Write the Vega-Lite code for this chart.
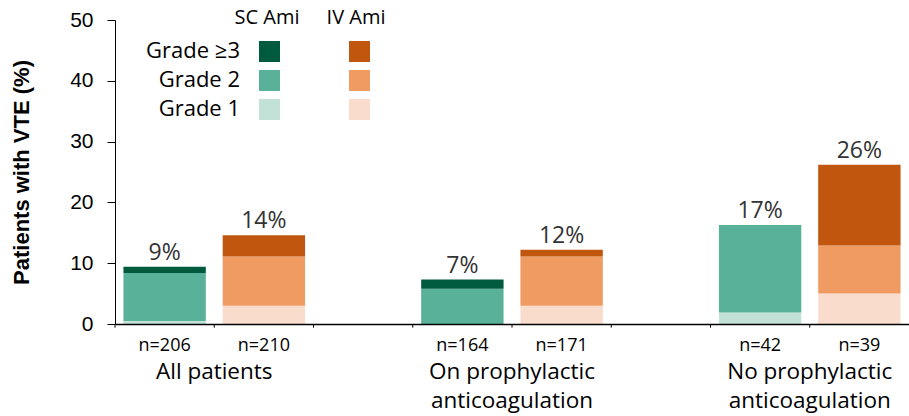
{
  "$schema": "https://vega.github.io/schema/vega-lite/v6.json",
  "width": 794,
  "height": 304,
  "autosize": {"type": "none"},
  "padding": {"left": 115, "top": 20, "right": 0, "bottom": 92},
  "config": {
    "view": {"stroke": null},
    "font": "Open Sans",
    "axis": {"grid": false}
  },
  "layer": [
    {
      "data": {"values": [
        {"slot": "n=206", "grade": "Grade 1", "value": 0.5},
        {"slot": "n=206", "grade": "Grade 2", "value": 7.9},
        {"slot": "n=206", "grade": "Grade ≥3", "value": 1.0},
        {"slot": "n=164", "grade": "Grade 1", "value": 0.0},
        {"slot": "n=164", "grade": "Grade 2", "value": 5.8},
        {"slot": "n=164", "grade": "Grade ≥3", "value": 1.5},
        {"slot": "n=42", "grade": "Grade 1", "value": 1.9},
        {"slot": "n=42", "grade": "Grade 2", "value": 14.4},
        {"slot": "n=42", "grade": "Grade ≥3", "value": 0.0}
      ]},
      "mark": {"type": "bar", "width": {"band": 0.83}},
      "encoding": {
        "x": {
          "field": "slot", "type": "nominal",
          "scale": {"domain": ["n=206", "n=210", "gap1", "n=164", "n=171", "gap2", "n=42", "n=39"], "paddingInner": 0, "paddingOuter": 0},
          "axis": {
            "title": null, "labelExpr": "indexof(datum.value,'gap')==0 ? '' : datum.value",
            "domain": true, "domainColor": "#000", "domainWidth": 1.5, "ticks": false,
            "labelFontSize": 18, "labelColor": "#000", "labelPadding": 12, "labelAngle": 0, "zindex": 1
          }
        },
        "y": {
          "field": "value", "type": "quantitative", "stack": "zero",
          "scale": {"domain": [0, 50], "nice": false},
          "axis": {
            "title": "Patients with VTE (%)", "titleFont": "Liberation Sans", "titleFontSize": 22, "titleFontWeight": "bold", "titleColor": "#000", "titlePadding": 36,
            "values": [0, 10, 20, 30, 40, 50], "tickSize": 8, "tickColor": "#000", "domainColor": "#000",
            "labelFont": "Liberation Sans", "labelFontSize": 21, "labelColor": "#000", "labelPadding": 14
          }
        },
        "fill": {
          "field": "grade", "type": "nominal",
          "scale": {"domain": ["Grade ≥3", "Grade 2", "Grade 1"], "range": ["#005a3e", "#59b19a", "#c2e2d8"]},
          "legend": {
            "title": "SC Ami", "orient": "none", "legendX": 120, "legendY": -12, "padding": 0,
            "symbolType": "square", "symbolSize": 440, "symbolStrokeWidth": 0, "symbolOffset": 6,
            "labelExpr": "''", "labelOffset": 0, "rowPadding": 8,
            "titleFont": "Open Sans", "titleFontSize": 20, "titleFontWeight": "normal", "titleColor": "#000", "titleAnchor": "middle", "titlePadding": 13
          }
        },
        "order": {"field": "grade", "sort": "ascending"}
      }
    },
    {
      "data": {"values": [
        {"slot": "n=210", "grade": "Grade 1", "value": 3.0},
        {"slot": "n=210", "grade": "Grade 2", "value": 8.1},
        {"slot": "n=210", "grade": "Grade ≥3", "value": 3.5},
        {"slot": "n=171", "grade": "Grade 1", "value": 3.0},
        {"slot": "n=171", "grade": "Grade 2", "value": 8.1},
        {"slot": "n=171", "grade": "Grade ≥3", "value": 1.1},
        {"slot": "n=39", "grade": "Grade 1", "value": 5.0},
        {"slot": "n=39", "grade": "Grade 2", "value": 7.9},
        {"slot": "n=39", "grade": "Grade ≥3", "value": 13.3}
      ]},
      "mark": {"type": "bar", "width": {"band": 0.83}},
      "encoding": {
        "x": {"field": "slot", "type": "nominal", "scale": {"domain": ["n=206", "n=210", "gap1", "n=164", "n=171", "gap2", "n=42", "n=39"]}},
        "y": {"field": "value", "type": "quantitative", "stack": "zero", "scale": {"domain": [0, 50], "nice": false}},
        "fill": {
          "field": "grade", "type": "nominal",
          "scale": {"domain": ["Grade ≥3", "Grade 2", "Grade 1"], "range": ["#c1560f", "#f09b62", "#fadccc"]},
          "legend": {
            "title": "IV Ami", "orient": "none", "legendX": 212, "legendY": -12, "padding": 0,
            "symbolType": "square", "symbolSize": 440, "symbolStrokeWidth": 0, "symbolOffset": 7,
            "labelExpr": "''", "labelOffset": 0, "rowPadding": 8,
            "titleFont": "Open Sans", "titleFontSize": 20, "titleFontWeight": "normal", "titleColor": "#000", "titleAnchor": "middle", "titlePadding": 13
          }
        },
        "order": {"field": "grade", "sort": "ascending"}
      }
    },
    {
      "data": {"values": [
        {"slot": "n=206", "total": 9.4, "label": "9%"},
        {"slot": "n=210", "total": 14.6, "label": "14%"},
        {"slot": "n=164", "total": 7.3, "label": "7%"},
        {"slot": "n=171", "total": 12.2, "label": "12%"},
        {"slot": "n=42", "total": 16.3, "label": "17%"},
        {"slot": "n=39", "total": 26.2, "label": "26%"}
      ]},
      "mark": {"type": "text", "baseline": "bottom", "dy": -2, "fontSize": 23, "color": "#333"},
      "encoding": {
        "x": {"field": "slot", "type": "nominal", "scale": {"domain": ["n=206", "n=210", "gap1", "n=164", "n=171", "gap2", "n=42", "n=39"]}},
        "y": {"field": "total", "type": "quantitative", "scale": {"domain": [0, 50], "nice": false}},
        "text": {"field": "label"}
      }
    },
    {
      "data": {"values": [
        {"slot": "n=210", "group": "All patients"},
        {"slot": "n=171", "group": "On prophylactic|anticoagulation"},
        {"slot": "n=39", "group": "No prophylactic|anticoagulation"}
      ]},
      "mark": {"type": "text", "baseline": "top", "dy": 37, "fontSize": 22.5, "color": "#000", "lineBreak": "|", "lineHeight": 29},
      "encoding": {
        "x": {"field": "slot", "type": "nominal", "bandPosition": 0, "scale": {"domain": ["n=206", "n=210", "gap1", "n=164", "n=171", "gap2", "n=42", "n=39"]}},
        "y": {"datum": 0},
        "text": {"field": "group"}
      }
    },
    {
      "mark": {"type": "rule", "color": "#000", "strokeWidth": 1.5},
      "encoding": {"y": {"datum": 0}}
    },
    {
      "data": {"values": [
        {"slot": "n=206"}, {"slot": "n=210"}, {"slot": "gap1"}, {"slot": "n=164"},
        {"slot": "n=171"}, {"slot": "gap2"}, {"slot": "n=42"}, {"slot": "n=39"}
      ]},
      "mark": {"type": "rule", "color": "#000", "strokeWidth": 1},
      "encoding": {
        "x": {"field": "slot", "type": "nominal", "bandPosition": 0, "scale": {"domain": ["n=206", "n=210", "gap1", "n=164", "n=171", "gap2", "n=42", "n=39"]}},
        "y": {"datum": 0},
        "y2": {"datum": -0.6}
      }
    },
    {
      "data": {"values": [
        {"grade": "Grade ≥3"},
        {"grade": "Grade 2"},
        {"grade": "Grade 1"}
      ]},
      "mark": {"type": "square", "opacity": 0},
      "encoding": {
        "fill": {
          "field": "grade", "type": "nominal",
          "scale": {"domain": ["Grade ≥3", "Grade 2", "Grade 1"], "range": ["#ffffff", "#ffffff", "#ffffff"]},
          "legend": {
            "title": null, "orient": "none", "legendX": 103, "legendY": 20, "padding": 0,
            "symbolType": "square", "symbolSize": 440, "symbolOpacity": 0, "symbolStrokeWidth": 0,
            "labelFont": "Open Sans", "labelFontSize": 22, "labelColor": "#000", "labelAlign": "right", "labelOffset": 0, "rowPadding": 7
          }
        }
      }
    }
  ],
  "resolve": {"scale": {"fill": "independent"}, "legend": {"fill": "independent"}}
}
